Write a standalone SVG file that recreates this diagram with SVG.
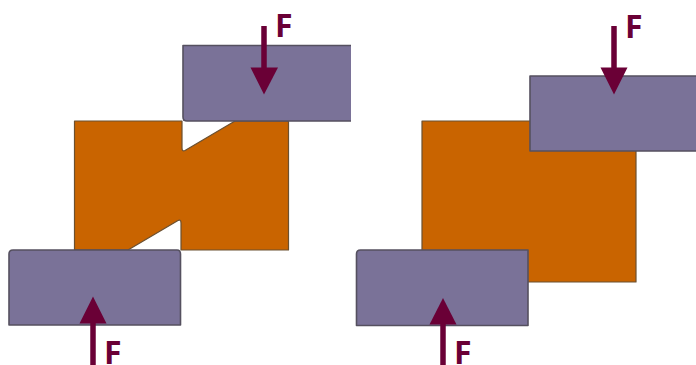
<svg xmlns="http://www.w3.org/2000/svg" width="696" height="365" viewBox="0 0 696 365">
<style>
.part{fill:#c96400;stroke:#6b5030;stroke-width:1.2;stroke-linejoin:round}
.die{fill:#7a7298;stroke:#55505f;stroke-width:1.6;stroke-linejoin:round}
.open{fill:#7a7298;stroke:none}
.edge{fill:none;stroke:#55505f;stroke-width:1.6;stroke-linejoin:round}
.shaft{stroke:#6a0036;stroke-width:5.5;fill:none}
.head{fill:#6a0036}
.lbl{font-family:"Open Sans","Liberation Sans",sans-serif;font-weight:700;font-size:32px;fill:#6a0036}
</style>
<rect width="696" height="365" fill="#fff"/>
<g id="part-left"><path class="part" d="M74.5 121H182V148Q182 152 185 150.500L235 121H288.500V250H181V223Q181 219 178 220.500L128 250H74.500Z"/></g>
<g id="part-right"><rect class="part" x="422" y="121" width="214" height="161"/></g>
<g id="die-left-top">
<path class="open" d="M183 45.500H351V121H183Z"/>
<path class="edge" d="M351 45.500H183V117Q183 121 187 121H351"/>
</g>
<g id="die-left-bottom"><path class="die" d="M9 325V254Q9 250 13 250H177Q180.500 250 180.500 254V325Z"/></g>
<g id="die-right-top">
<path class="open" d="M530 76H696V151H530Z"/>
<path class="edge" d="M696 76H530V151H696"/>
</g>
<g id="die-right-bottom"><path class="die" d="M356.500 325.500V254Q356.500 250 360.500 250H528V325.500Z"/></g>
<g id="connectors">
<path class="shaft" d="M264 26V70"/><path class="head" d="M250.500 67.500H278L264 94.500Z"/>
<path class="shaft" d="M93 365V321"/><path class="head" d="M79.500 323.500H106.500L93 296.500Z"/>
<path class="shaft" d="M614 26V70"/><path class="head" d="M600.500 67.500H627.500L614 94.500Z"/>
<path class="shaft" d="M443 365V322"/><path class="head" d="M429.500 324.500H456.500L443 298Z"/>
</g>
<g id="labels">
<text class="lbl" x="275" y="37">F</text>
<text class="lbl" x="104" y="363.500">F</text>
<text class="lbl" x="625" y="38">F</text>
<text class="lbl" x="454" y="363.500">F</text>
</g>
</svg>
